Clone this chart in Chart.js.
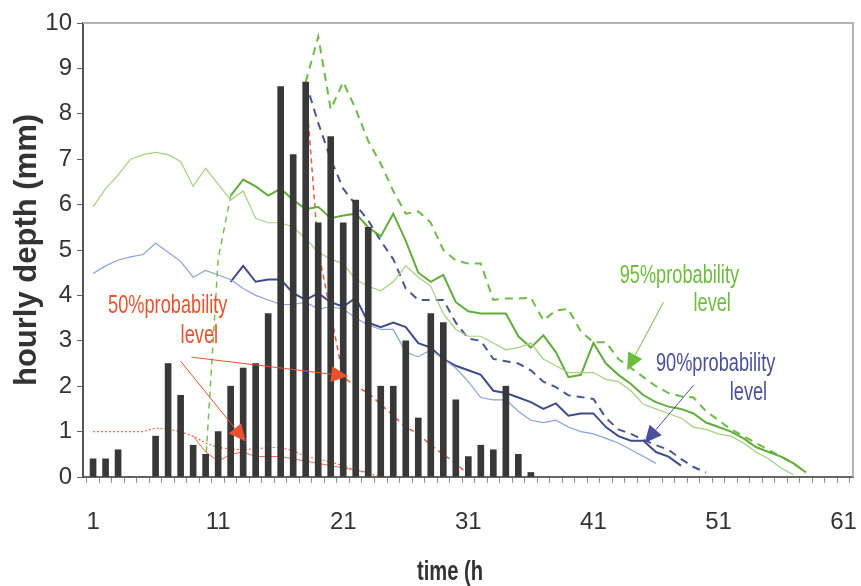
<!DOCTYPE html>
<html><head><meta charset="utf-8">
<script src="https://cdn.jsdelivr.net/npm/chart.js@4.4.0/dist/chart.umd.min.js"></script>
<style>html,body{margin:0;padding:0;background:#fff;}#wrap{width:861px;height:586px;position:relative;}</style>
</head><body><div id="wrap"><canvas id="c" width="861" height="586"></canvas></div>
<script>
// ---- data ----
const tickLabels = [1, 11, 21, 31, 41, 51, 61];
// hourly rainfall depth, hours 1..36
const rainStart = 1;
const rain = [0.4,0.4,0.6,0,0,0.9,2.5,1.8,0.7,0.5,1.0,2.0,2.4,2.5,3.6,8.6,7.1,8.7,5.6,7.5,5.6,6.1,5.5,2.0,2.0,3.0,1.3,3.6,3.4,1.7,0.45,0.7,0.6,2.0,0.5,0.1];
// light green thin line (hours 1..57)
const lgStart = 1;
const lightGreen = [5.95,6.35,6.65,7.0,7.1,7.15,7.1,6.95,6.4,6.8,6.45,6.1,6.3,5.7,5.6,5.6,5.5,5.25,4.95,4.8,4.7,4.35,4.2,4.1,4.3,4.65,4.4,4.2,3.6,3.25,3.1,3.1,2.95,2.8,2.85,2.95,2.6,2.45,2.3,2.3,2.3,2.15,2.1,1.9,1.6,1.5,1.4,1.3,1.1,1.05,0.95,0.9,0.75,0.55,0.4,0.2,0.05];
// rising green segment (hours 10..12)
const riseStart = 10;
const greenRise = [0.3,4.8,6.2];
// dark green solid (hours 12..58)
const dgStart = 12;
const darkGreen = [6.2,6.55,6.4,6.2,6.35,6.1,5.9,5.95,5.7,5.76,5.8,5.5,5.3,5.8,5.2,4.5,4.3,4.45,3.85,3.65,3.6,3.6,3.6,3.1,2.85,3.12,2.75,2.2,2.25,2.95,2.5,2.25,2.05,1.8,1.65,1.55,1.5,1.4,1.2,1.1,1.0,0.85,0.66,0.55,0.45,0.3,0.1];
// green dashed (hours 18..58)
const gdStart = 18;
const greenDashed = [8.7,9.7,8.1,8.7,8.1,7.4,6.9,6.3,5.8,5.85,5.6,5.0,4.77,4.7,4.7,3.9,3.93,3.93,3.95,3.45,3.67,3.7,3.2,2.97,2.97,2.6,2.4,2.2,2.0,1.85,1.78,1.75,1.45,1.25,1.05,0.9,0.75,0.6,0.45,0.3,0.1];
// light blue thin (hours 1..46)
const lbStart = 1;
const lightBlue = [4.48,4.65,4.78,4.85,4.9,5.15,4.95,4.75,4.4,4.55,4.45,4.35,4.15,4.0,3.9,3.8,3.8,3.85,3.7,3.75,3.7,3.5,3.35,3.25,3.25,2.75,2.65,2.8,2.6,2.4,2.1,1.75,1.7,1.7,1.45,1.25,1.2,1.25,1.1,1.0,0.95,0.85,0.75,0.6,0.45,0.3];
// dark blue solid (hours 12..48)
const bsStart = 12;
const darkBlue = [4.3,4.65,4.3,4.35,4.35,4.05,3.9,4.05,3.85,3.75,3.95,3.4,3.3,3.4,3.3,2.95,2.85,2.6,2.45,2.35,2.25,1.9,1.85,1.75,1.65,1.5,1.62,1.35,1.4,1.4,1.1,0.9,0.8,0.8,0.55,0.45,0.25];
// dark blue dashed (hours 18..50)
const bdStart = 18;
const blueDashed = [8.7,7.8,7.0,6.35,6.0,5.65,5.2,4.8,4.15,3.9,3.9,3.9,3.4,3.05,3.0,2.6,2.55,2.5,2.35,2.1,1.98,1.8,1.76,1.72,1.3,1.05,0.95,0.82,0.7,0.6,0.4,0.22,0.1];
// red dashed (hours 18..31)
const rdStart = 18;
const redDashed = [8.6,5.0,3.6,2.2,2.0,1.85,1.6,1.35,1.1,0.95,0.7,0.5,0.3,0.05];
// red dotted low line (hours 1..24)
const r1Start = 1;
const redDotted = [1.0,1.0,1.0,1.0,1.0,1.08,1.05,1.0,0.9,0.75,0.65,0.62,0.6,0.62,0.65,0.65,0.58,0.45,0.4,0.33,0.25,0.15,0.08,0.0];
// red thin low line (hours 9..23)
const r2Start = 9;
const redThin = [0.9,0.55,0.35,0.5,0.55,0.45,0.45,0.45,0.4,0.35,0.3,0.25,0.2,0.15,0.1];

// annotations
const notes = [
  {text:'50%probability', x:2.2, y:3.78, color:'#e9512f'},
  {text:'level', x:8.0, y:3.12, color:'#e9512f'},
  {text:'95%probability', x:43.1, y:4.44, color:'#6cbd3c'},
  {text:'level', x:49.0, y:3.82, color:'#6cbd3c'},
  {text:'90%probability', x:46.0, y:2.5, color:'#4b4f9c'},
  {text:'level', x:51.9, y:1.85, color:'#4b4f9c'}
];
const arrows = [
  {from:[8.86,2.64], to:[21.4,2.22], color:'#e9512f'},
  {from:[8.0,2.55], to:[13.2,0.78], color:'#e9512f'},
  {from:[46.6,3.85], to:[43.7,2.35], color:'#6cbd3c'},
  {from:[49.0,2.02], to:[45.1,0.75], color:'#4b4f9c'}
];

// ---- helpers ----
function pts(start, vals){ return vals.map((v,k)=>({x:start+k, y:v})); }
function hasFont(name){
  const c=document.createElement('canvas').getContext('2d');
  const s='mmmiii1100WW';
  c.font='40px monospace'; const a=c.measureText(s).width;
  c.font='40px "'+name+'", monospace'; const b=c.measureText(s).width;
  return a!==b;
}
const narrowOK = hasFont('Liberation Sans Narrow');
const tickFont = narrowOK ? {family:'"Liberation Sans Narrow"', size:29} : {family:'"Liberation Sans", Arial, sans-serif', size:24};

const annotPlugin = {
  id:'annot',
  beforeDraw(chart){
    const c=chart.ctx; c.save(); c.fillStyle='#fff'; c.fillRect(0,0,chart.width,chart.height); c.restore();
  },
  afterDraw(chart){
    const c=chart.ctx, a=chart.chartArea, xs=chart.scales.x, ys=chart.scales.y;
    c.save();
    c.strokeStyle='#b4b4b4'; c.lineWidth=2;
    c.beginPath(); c.moveTo(a.left,a.top); c.lineTo(a.right,a.top); c.lineTo(a.right,a.bottom); c.stroke();
    arrows.forEach(ar=>{
      const x1=xs.getPixelForValue(ar.from[0]), y1=ys.getPixelForValue(ar.from[1]);
      const x2=xs.getPixelForValue(ar.to[0]), y2=ys.getPixelForValue(ar.to[1]);
      const ang=Math.atan2(y2-y1,x2-x1), L=17, W=8;
      const bx=x2-L*Math.cos(ang), by=y2-L*Math.sin(ang);
      c.strokeStyle=ar.color; c.fillStyle=ar.color; c.lineWidth=1;
      c.beginPath(); c.moveTo(x1,y1); c.lineTo(bx,by); c.stroke();
      c.beginPath(); c.moveTo(x2,y2);
      c.lineTo(bx+W*Math.sin(ang), by-W*Math.cos(ang));
      c.lineTo(bx-W*Math.sin(ang), by+W*Math.cos(ang));
      c.closePath(); c.fill();
    });
    notes.forEach(n=>{
      const px=xs.getPixelForValue(n.x), py=ys.getPixelForValue(n.y);
      c.save(); c.translate(px,py); c.scale(0.7,1);
      c.font='26px "Liberation Sans", Arial, sans-serif'; c.textBaseline='middle'; c.textAlign='left';
      c.fillStyle=n.color; c.fillText(n.text,0,0); c.restore();
    });
    c.save(); c.translate(450,572); c.scale(0.72,1);
    c.font='bold 28px "Liberation Sans", Arial, sans-serif'; c.textAlign='center'; c.textBaseline='middle';
    c.fillStyle='#333'; c.fillText('time (h',0,0); c.restore();
    c.restore();
  }
};

const lineDs = (label, data, color, width, dash) => ({
  type:'line', label, data, borderColor:color, borderWidth:width, borderDash:dash||[],
  pointRadius:0, fill:false, tension:0, order:1
});

new Chart(document.getElementById('c'), {
  type:'bar',
  data:{
    datasets:[
      {type:'bar', label:'hourly depth', data:pts(rainStart, rain), backgroundColor:'#383838', barThickness:6, order:0},
      lineDs('light green', pts(lgStart, lightGreen), '#a2d27e', 1.2),
      lineDs('green rise', pts(riseStart, greenRise), '#7bbd4c', 1.5, [6,5]),
      lineDs('dark green', pts(dgStart, darkGreen), '#62ad3a', 2),
      lineDs('green dashed', pts(gdStart, greenDashed), '#6dbb45', 2, [8,6]),
      lineDs('light blue', pts(lbStart, lightBlue), '#8da2d8', 1.2),
      lineDs('dark blue', pts(bsStart, darkBlue), '#3f4c8c', 2),
      lineDs('blue dashed', pts(bdStart, blueDashed), '#4a5591', 2, [8,6]),
      lineDs('red dashed', pts(rdStart, redDashed), '#ea5a3c', 1.5, [5,4]),
      lineDs('red dotted', pts(r1Start, redDotted), '#ee6a4e', 1.2, [2,2]),
      lineDs('red thin', pts(r2Start, redThin), '#ee6a4e', 1)
    ]
  },
  options:{
    responsive:false, animation:false, maintainAspectRatio:false,
    layout:{padding:{top:23, right:8, left:0, bottom:0}},
    plugins:{legend:{display:false}, tooltip:{enabled:false}},
    scales:{
      x:{
        type:'linear', min:0.7, max:61.25,
        afterBuildTicks(s){ const t=[]; for(let v=1; v<=61; v++) t.push({value:v}); s.ticks=t; },
        afterFit(s){ s.height=109; s.paddingLeft=0; s.paddingRight=0; },
        ticks:{autoSkip:false, maxRotation:0, minRotation:0, padding:25, color:'#333', font:tickFont,
          callback:(v)=> tickLabels.includes(v) ? String(v) : ''},
        grid:{drawOnChartArea:false, drawTicks:true, tickLength:6, color:'#8a8a8a', lineWidth:1},
        border:{display:true, color:'#666', width:2}
      },
      y:{
        min:0, max:10,
        afterFit(s){ s.width=83; s.paddingTop=0; s.paddingBottom=0; },
        ticks:{stepSize:1, padding:5, color:'#333', font:tickFont},
        grid:{drawOnChartArea:false, drawTicks:true, tickLength:6, color:'#666', lineWidth:1},
        border:{display:true, color:'#555', width:2},
        title:{display:true, text:'hourly depth (mm)', color:'#333', font:{family:'"Liberation Sans", Arial, sans-serif', size:31, weight:'bold'}, padding:{top:9, bottom:0}}
      }
    }
  },
  plugins:[annotPlugin]
});
</script>
</body></html>
